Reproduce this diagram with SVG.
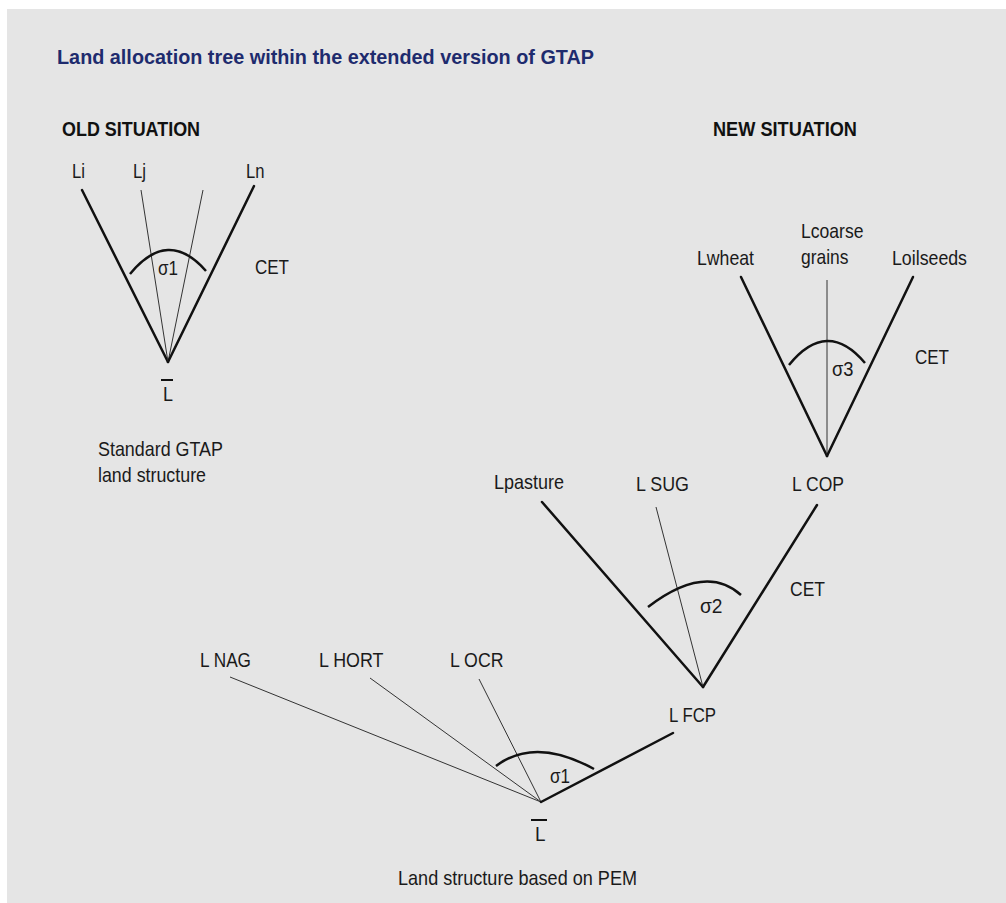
<svg xmlns="http://www.w3.org/2000/svg" width="1006" height="903" viewBox="0 0 1006 903">
<style>
text{font-family:"Liberation Sans",Arial,sans-serif;font-size:21px;fill:#1a1a1a}
.title{font-size:21px;font-weight:bold;fill:#1e2b6e}
.head{font-weight:bold;fill:#111}
.thick{stroke:#111;stroke-width:2.5;fill:none;stroke-linecap:round}
.thin{stroke:#333;stroke-width:1;fill:none}
.arc{stroke:#111;stroke-width:2.5;fill:none}
.bar{stroke:#111;stroke-width:2}
</style>
<rect x="0" y="0" width="1006" height="903" fill="#ffffff"/>
<rect x="7" y="9" width="999" height="894" fill="#e5e5e5"/>
<text class="title" x="57" y="64" textLength="537" lengthAdjust="spacingAndGlyphs">Land allocation tree within the extended version of GTAP</text>
<text class="head" x="62" y="136" textLength="138" lengthAdjust="spacingAndGlyphs">OLD SITUATION</text>
<text class="head" x="713" y="136" textLength="144" lengthAdjust="spacingAndGlyphs">NEW SITUATION</text>

<g id="connectors">
  <line class="thick" x1="82" y1="190" x2="168" y2="362"/>
  <line class="thin" x1="141" y1="190" x2="168" y2="362"/>
  <line class="thin" x1="203" y1="190" x2="168" y2="362"/>
  <line class="thick" x1="254" y1="186" x2="168" y2="362"/>
  <path class="arc" d="M130,274 Q168,227.5 206,271"/>
  <line class="thick" x1="741" y1="277" x2="827" y2="456"/>
  <line class="thin" x1="827" y1="280" x2="827" y2="456"/>
  <line class="thick" x1="913" y1="277" x2="827" y2="456"/>
  <path class="arc" d="M789,365 Q827,318 865,363"/>
  <line class="thick" x1="542" y1="502" x2="703" y2="687"/>
  <line class="thin" x1="656" y1="507" x2="703" y2="687"/>
  <line class="thick" x1="817" y1="505" x2="703" y2="687"/>
  <path class="arc" d="M648,607 Q705.5,563 741,595"/>
  <line class="thin" x1="230" y1="677" x2="541" y2="802"/>
  <line class="thin" x1="370" y1="678" x2="541" y2="802"/>
  <line class="thin" x1="479" y1="679" x2="541" y2="802"/>
  <line class="thick" x1="673" y1="733" x2="541" y2="802"/>
  <path class="arc" d="M496,766 Q535,736.5 594,769"/>
</g>

<g id="old-tree">
  <g id="old-Li"><text x="72" y="178" textLength="13" lengthAdjust="spacingAndGlyphs">Li</text></g>
  <g id="old-Lj"><text x="133" y="178" textLength="13" lengthAdjust="spacingAndGlyphs">Lj</text></g>
  <g id="old-Ln"><text x="246" y="178" textLength="18.5" lengthAdjust="spacingAndGlyphs">Ln</text></g>
  <g id="old-sigma1"><text x="158" y="275" textLength="20" lengthAdjust="spacingAndGlyphs">σ1</text></g>
  <g id="old-CET"><text x="255" y="274" textLength="34" lengthAdjust="spacingAndGlyphs">CET</text></g>
  <g id="old-Lbar"><line class="bar" x1="161" y1="380" x2="173" y2="380"/><text x="163" y="401" textLength="10" lengthAdjust="spacingAndGlyphs">L</text></g>
  <g id="old-caption"><text x="98" y="456" textLength="125" lengthAdjust="spacingAndGlyphs">Standard GTAP</text><text x="98" y="482" textLength="108" lengthAdjust="spacingAndGlyphs">land structure</text></g>
</g>

<g id="new-tree">
  <g id="n-Lwheat"><text x="697" y="265" textLength="57" lengthAdjust="spacingAndGlyphs">Lwheat</text></g>
  <g id="n-Lcoarse"><text x="801" y="238" textLength="62.5" lengthAdjust="spacingAndGlyphs">Lcoarse</text><text x="801" y="264" textLength="47.5" lengthAdjust="spacingAndGlyphs">grains</text></g>
  <g id="n-Loilseeds"><text x="892" y="265" textLength="75" lengthAdjust="spacingAndGlyphs">Loilseeds</text></g>
  <g id="n-sigma3"><text x="832" y="376" textLength="21.5" lengthAdjust="spacingAndGlyphs">σ3</text></g>
  <g id="n-CET3"><text x="915" y="364" textLength="34" lengthAdjust="spacingAndGlyphs">CET</text></g>
  <g id="n-LCOP"><text x="792" y="491" textLength="52" lengthAdjust="spacingAndGlyphs">L COP</text></g>
  <g id="n-Lpasture"><text x="494" y="489" textLength="70" lengthAdjust="spacingAndGlyphs">Lpasture</text></g>
  <g id="n-LSUG"><text x="636" y="491" textLength="53" lengthAdjust="spacingAndGlyphs">L SUG</text></g>
  <g id="n-sigma2"><text x="700" y="613" textLength="22.5" lengthAdjust="spacingAndGlyphs">σ2</text></g>
  <g id="n-CET2"><text x="790" y="596" textLength="35" lengthAdjust="spacingAndGlyphs">CET</text></g>
  <g id="n-LFCP"><text x="669" y="722" textLength="47" lengthAdjust="spacingAndGlyphs">L FCP</text></g>
  <g id="n-LNAG"><text x="200" y="667" textLength="51" lengthAdjust="spacingAndGlyphs">L NAG</text></g>
  <g id="n-LHORT"><text x="319" y="667" textLength="64.5" lengthAdjust="spacingAndGlyphs">L HORT</text></g>
  <g id="n-LOCR"><text x="450" y="667" textLength="53.5" lengthAdjust="spacingAndGlyphs">L OCR</text></g>
  <g id="n-sigma1"><text x="550" y="783" textLength="20" lengthAdjust="spacingAndGlyphs">σ1</text></g>
  <g id="n-Lbar"><line class="bar" x1="531" y1="820" x2="547" y2="820"/><text x="535" y="841" textLength="10.5" lengthAdjust="spacingAndGlyphs">L</text></g>
  <g id="n-caption"><text x="398" y="885" textLength="239" lengthAdjust="spacingAndGlyphs">Land structure based on PEM</text></g>
</g>
</svg>
